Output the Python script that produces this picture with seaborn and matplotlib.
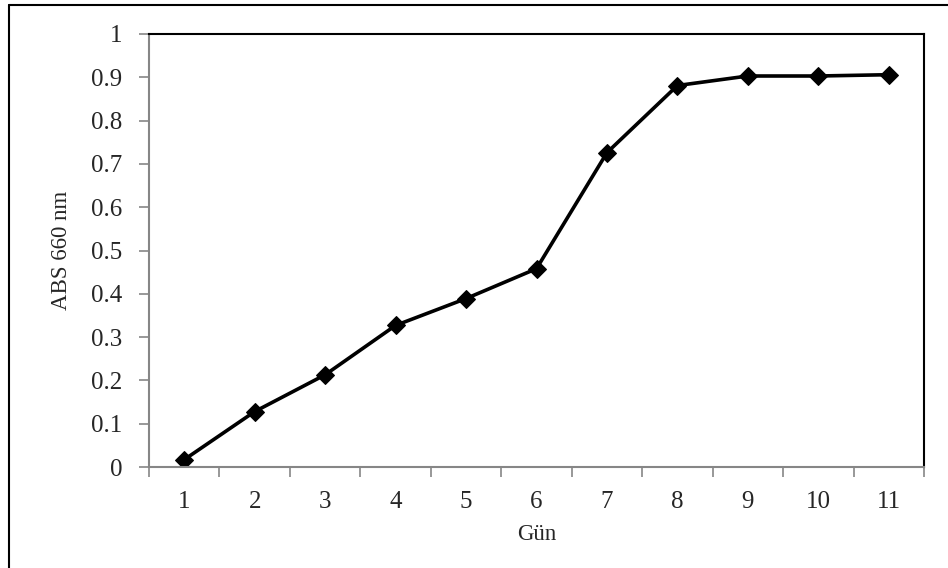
import numpy as np
import pandas as pd
import matplotlib
matplotlib.use("Agg")
import matplotlib.pyplot as plt
import seaborn as sns
from matplotlib.lines import Line2D

# values
gun = [1, 2, 3, 4, 5, 6, 7, 8, 9, 10, 11]
abs660 = [0.017, 0.128, 0.213, 0.327, 0.389, 0.458, 0.726, 0.881, 0.903, 0.903, 0.906]
y_ticks = [0, 0.1, 0.2, 0.3, 0.4, 0.5, 0.6, 0.7, 0.8, 0.9, 1]
y_labels = ["0", "0.1", "0.2", "0.3", "0.4", "0.5", "0.6", "0.7", "0.8", "0.9", "1"]

df = pd.DataFrame({"Gün": gun, "ABS": abs660})

sns.set_style("white")
plt.rcParams["font.family"] = ["Liberation Serif", "DejaVu Serif"]

fig = plt.figure(figsize=(9.48, 5.68), dpi=100)
W, H = 948, 568
ax = fig.add_axes([149 / W, 1 - 467 / H, (924 - 149) / W, (467 - 34) / H])

sns.lineplot(data=df, x="Gün", y="ABS", ax=ax, color="black", lw=2.6,
             marker="D", markersize=9, markeredgecolor="black", markerfacecolor="black")

ax.set_xlim(0.5, 11.5)
ax.set_ylim(0, 1)
ax.set_yticks(y_ticks)
ax.set_yticklabels(y_labels)
ax.set_xticks(gun)
ax.set_xticklabels([str(g) for g in gun])
ax.set_xticks(np.arange(0.5, 12, 1), minor=True)

grey = "#868686"
ax.tick_params(axis="x", which="major", bottom=True, length=0, pad=17, labelsize=18)
ax.tick_params(axis="x", which="minor", bottom=True, length=7, color=grey, width=1.2, direction="out")
ax.tick_params(axis="y", left=True, length=7, color=grey, width=1.2, direction="out", pad=12, labelsize=18)

for s in ["left", "bottom"]:
    ax.spines[s].set_color(grey)
    ax.spines[s].set_linewidth(1.5)
for s in ["top", "right"]:
    ax.spines[s].set_color("black")
    ax.spines[s].set_linewidth(1.5)
    ax.spines[s].set_visible(True)

ax.set_xlabel("Gün", fontsize=16.5, labelpad=8)
ax.set_ylabel("ABS 660 nm", fontsize=16.5, labelpad=14)

# outer chart border (left and top edges only visible)
fig.add_artist(Line2D([9 / W, 9 / W], [0, 1 - 5 / H], color="black", lw=1.5, transform=fig.transFigure))
fig.add_artist(Line2D([9 / W, 1], [1 - 5 / H, 1 - 5 / H], color="black", lw=1.5, transform=fig.transFigure))

fig.savefig("out.png", dpi=100)
